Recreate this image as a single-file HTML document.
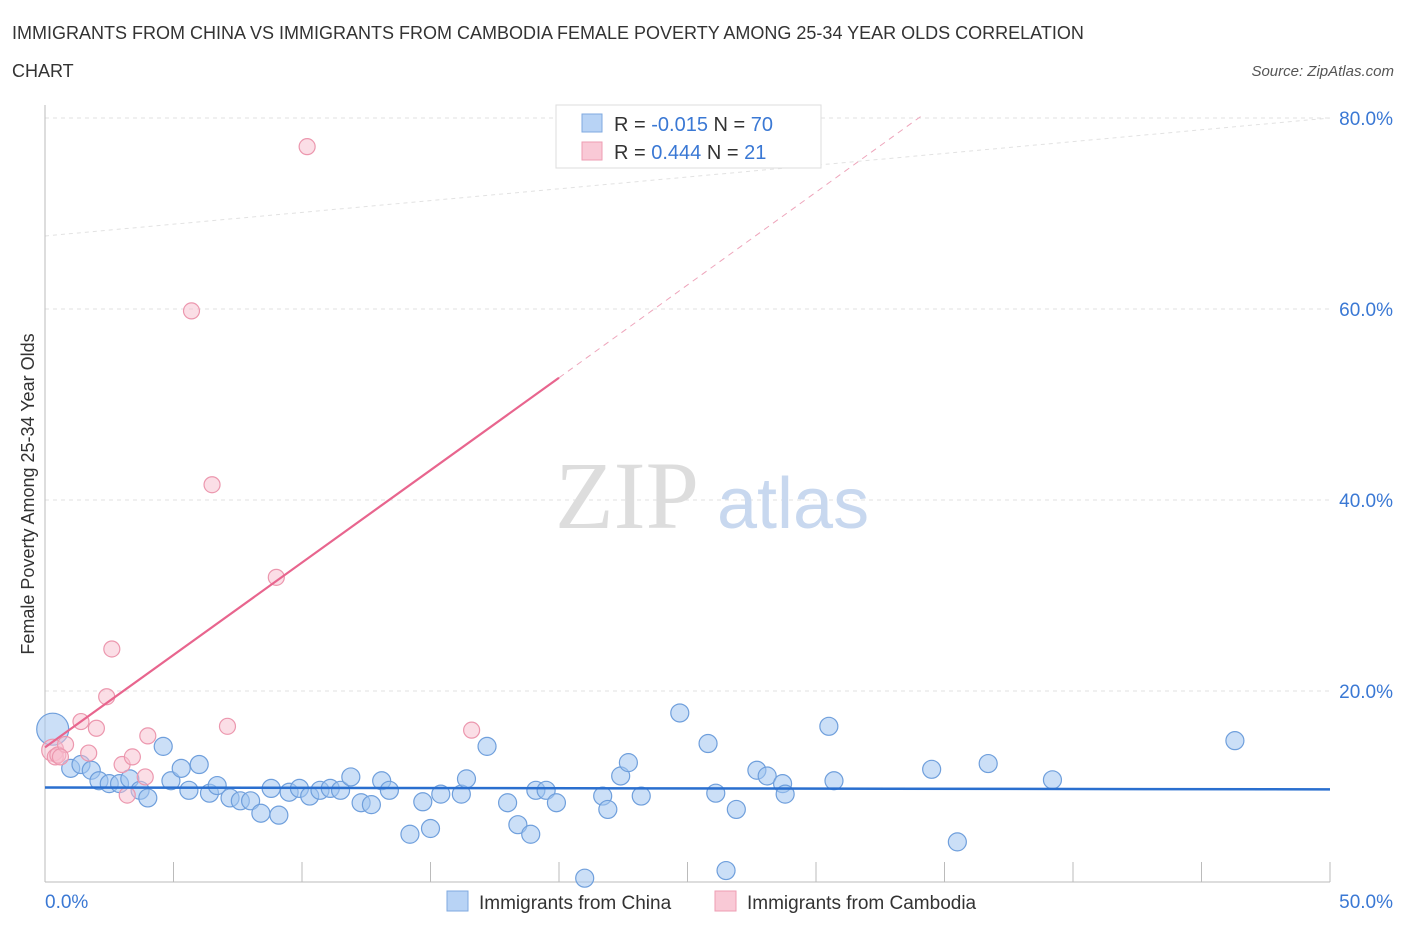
<!DOCTYPE html>
<html><head><meta charset="utf-8"><style>
body{margin:0;background:#fff;font-family:"Liberation Sans",sans-serif;}
</style></head><body>
<svg width="1406" height="930" viewBox="0 0 1406 930" xmlns="http://www.w3.org/2000/svg">
<text x="12" y="39" font-size="18" fill="#333">IMMIGRANTS FROM CHINA VS IMMIGRANTS FROM CAMBODIA FEMALE POVERTY AMONG 25-34 YEAR OLDS CORRELATION</text>
<text x="12" y="77" font-size="18" fill="#333">CHART</text>
<text x="1394" y="76" font-size="15" fill="#555" font-style="italic" text-anchor="end">Source: ZipAtlas.com</text>
<g id="grid"></g>
<g id="axes"></g>
<text x="555" y="528" font-size="96" font-family="Liberation Serif" fill="#ddd">ZIP</text>
<text x="717" y="528" font-size="72" fill="#c8d8ef">atlas</text>
<g id="marks"></g>
<text transform="translate(34,494) rotate(-90)" font-size="18" fill="#333" text-anchor="middle">Female Poverty Among 25-34 Year Olds</text>
<g>
<rect x="556" y="105" width="265" height="63" fill="#fff" stroke="#ddd"/>
<rect x="582" y="114" width="20" height="18" fill="#b8d3f5" stroke="#7fa9e0"/>
<rect x="582" y="142" width="20" height="18" fill="#f9c9d6" stroke="#ee9db3"/>
<text x="614" y="131" font-size="20" fill="#333">R = <tspan fill="#3a78d4">-0.015</tspan>   N = <tspan fill="#3a78d4">70</tspan></text>
<text x="614" y="159" font-size="20" fill="#333">R =  <tspan fill="#3a78d4">0.444</tspan>   N =  <tspan fill="#3a78d4">21</tspan></text>
</g>
<g>
<rect x="447" y="891" width="21" height="20" fill="#b8d3f5" stroke="#7fa9e0"/>
<text x="479" y="909" font-size="19" fill="#333">Immigrants from China</text>
<rect x="715" y="891" width="21" height="20" fill="#f9c9d6" stroke="#ee9db3"/>
<text x="747" y="909" font-size="19" fill="#333">Immigrants from Cambodia</text>
</g>
</svg>
<script>
const yTicks=[20,40,60,80];
const yTickLabels=["20.0%","40.0%","60.0%","80.0%"];
const xTicks=[0,5,10,15,20,25,30,35,40,45,50];
const chinaX=[0.3,1,1.4,1.8,2.1,2.5,2.9,3.3,3.7,4,4.6,4.9,5.3,5.6,6,6.4,6.7,7.2,7.6,8,8.4,8.8,9.1,9.5,9.9,10.3,10.7,11.1,11.5,11.9,12.3,12.7,13.1,13.4,14.2,14.7,15,15.4,16.2,16.4,17.2,18,18.4,18.9,19.1,19.5,19.9,21,21.7,21.9,22.4,22.7,23.2,24.7,25.8,26.1,26.5,26.9,27.7,28.1,28.7,28.8,30.5,30.7,34.5,35.5,36.7,39.2,46.3];
const chinaY=[16,11.9,12.3,11.7,10.6,10.3,10.3,10.8,9.6,8.8,14.2,10.6,11.9,9.6,12.3,9.3,10.1,8.8,8.5,8.5,7.2,9.8,7,9.4,9.8,9,9.6,9.8,9.6,11,8.3,8.1,10.6,9.6,5,8.4,5.6,9.2,9.2,10.8,14.2,8.3,6,5,9.6,9.6,8.3,0.4,9,7.6,11.1,12.5,9.0,17.7,14.5,9.3,1.2,7.6,11.7,11.1,10.3,9.2,16.3,10.6,11.8,4.2,12.4,10.7,14.8];
const chinaR=[16,9,9,9,9,9,9,9,9,9,9,9,9,9,9,9,9,9,9,9,9,9,9,9,9,9,9,9,9,9,9,9,9,9,9,9,9,9,9,9,9,9,9,9,9,9,9,9,9,9,9,9,9,9,9,9,9,9,9,9,9,9,9,9,9,9,9,9,9];
const cambX=[0.3,0.4,0.5,0.8,1.4,1.7,2,2.4,2.6,3,3.2,3.4,3.9,4,5.7,6.5,7.1,9,10.2,16.6,0.6];
const cambY=[13.8,13.1,13.3,14.4,16.8,13.5,16.1,19.4,24.4,12.3,9.1,13.1,11,15.3,59.8,41.6,16.3,31.9,77,15.9,13.1];
const chinaTrend=[[0,9.9],[50,9.7]];
const cambTrend=[[0,14.1],[20,52.8]];
const cambTrendDash=[[20,52.8],[34.2,80.4]];
const NS="http://www.w3.org/2000/svg";
const X=v=>45+v*25.7, Y=v=>882-v*9.55;
function mk(t,a,p){const e=document.createElementNS(NS,t);for(const k in a)e.setAttribute(k,a[k]);p.appendChild(e);return e;}
const grid=document.getElementById('grid'),axes=document.getElementById('axes'),marks=document.getElementById('marks');
yTicks.forEach((v,i)=>{const l=mk('line',{x1:45,x2:1330,y1:Y(v),y2:Y(v),stroke:'#e2e2e2','stroke-dasharray':'4,4'},grid);


const t=mk('text',{x:1393,y:Y(v)+7,'font-size':19,fill:'#3a78d4','text-anchor':'end'},axes);t.textContent=yTickLabels[i];

});
const tl=mk('line',{x1:45,x2:1330,y1:Y(100*0+0)-764+882-882+118,y2:118,stroke:'#e2e2e2','stroke-dasharray':'4,4'},grid);


const xa=mk('line',{x1:45,x2:1330,y1:882,y2:882,stroke:'#bbb'},axes);


const ya=mk('line',{x1:45,x2:45,y1:105,y2:882,stroke:'#bbb'},axes);


xTicks.forEach(v=>{const l=mk('line',{x1:X(v),x2:X(v),y1:882,y2:862,stroke:'#bbb'},axes);

});
const x0=mk('text',{x:45,y:908,'font-size':19,fill:'#3a78d4'},axes);x0.textContent='0.0%';


const x1=mk('text',{x:1393,y:908,'font-size':19,fill:'#3a78d4','text-anchor':'end'},axes);x1.textContent='50.0%';


chinaX.forEach((v,i)=>{const c=mk('circle',{cx:X(v),cy:Y(chinaY[i]),r:chinaR[i]||9,fill:'rgba(160,196,240,0.55)',stroke:'#6f9fdc','stroke-width':1.2},marks);

});
cambX.forEach((v,i)=>{const c=mk('circle',{cx:X(v),cy:Y(cambY[i]),r:i==0?11:8,fill:'rgba(248,190,206,0.5)',stroke:'#ec97ae','stroke-width':1.2},marks);

});
const t1=mk('line',{x1:X(chinaTrend[0][0]),y1:Y(chinaTrend[0][1]),x2:X(chinaTrend[1][0]),y2:Y(chinaTrend[1][1]),stroke:'#2a6fcf','stroke-width':2.5},marks);


const t2=mk('line',{x1:X(cambTrend[0][0]),y1:Y(cambTrend[0][1]),x2:X(cambTrend[1][0]),y2:Y(cambTrend[1][1]),stroke:'#e8658e','stroke-width':2.2},marks);


const t3=mk('line',{x1:X(cambTrendDash[0][0]),y1:Y(cambTrendDash[0][1]),x2:X(cambTrendDash[1][0]),y2:Y(cambTrendDash[1][1]),stroke:'#eea5bb','stroke-width':1,'stroke-dasharray':'6,5'},marks);


</script>
</body></html>
